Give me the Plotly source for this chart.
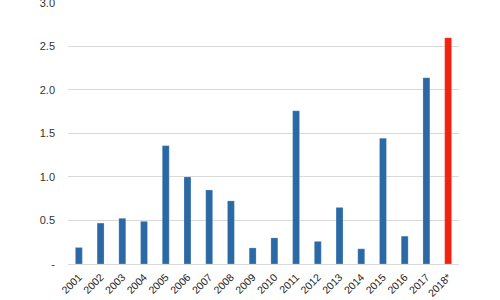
import plotly.graph_objects as go

years = ["2001", "2002", "2003", "2004", "2005", "2006", "2007", "2008", "2009",
         "2010", "2011", "2012", "2013", "2014", "2015", "2016", "2017", "2018*"]
values = [0.19, 0.47, 0.525, 0.49, 1.36, 1.0, 0.85, 0.725, 0.185,
          0.30, 1.76, 0.26, 0.65, 0.175, 1.445, 0.32, 2.14, 2.60]
blue = "#2b69a5"
red = "#f3220f"
colors = [blue] * (len(years) - 1) + [red]

tick_vals = [0, 0.5, 1.0, 1.5, 2.0, 2.5, 3.0]
tick_text = ["-", "0.5", "1.0", "1.5", "2.0", "2.5", "3.0"]

fig = go.Figure(go.Bar(
    x=years, y=values,
    marker=dict(color=colors, line=dict(color="rgba(255,255,255,0.35)", width=0.6)),
    width=0.32,
))

fig.update_layout(
    width=500, height=300,
    margin=dict(l=68, r=41, t=2, b=36, autoexpand=False),
    paper_bgcolor="white", plot_bgcolor="white",
    font=dict(family="Liberation Sans, Arial, sans-serif", size=11, color="#333333"),
    showlegend=False,
)
fig.update_xaxes(
    type="category", tickangle=-45, showgrid=False, showline=False, zeroline=False,
    ticks="outside", ticklen=2, tickcolor="rgba(0,0,0,0)",
    tickfont=dict(size=10.5, color="#222222"), automargin=False,
)
fig.update_yaxes(
    range=[0, 3.01], tickvals=tick_vals, ticktext=tick_text,
    showgrid=True, gridcolor="#d9d9d9", gridwidth=1,
    zeroline=True, zerolinecolor="#d9d9d9", zerolinewidth=1,
    showline=False, ticks="", ticklabelstandoff=12, automargin=False,
    ticklabeloverflow="allow",
    tickfont=dict(size=11, color="#333333"),
)

fig.write_html("out.html")
